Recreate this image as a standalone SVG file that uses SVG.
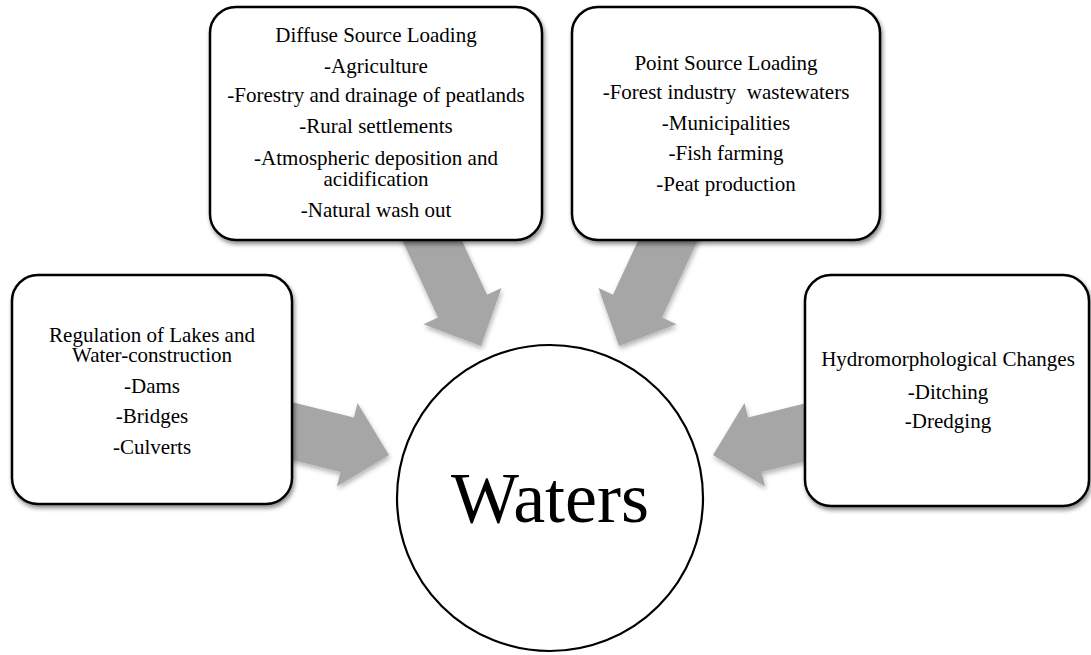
<svg xmlns="http://www.w3.org/2000/svg" width="1091" height="655" viewBox="0 0 1091 655">
<defs>
<filter id="sh" x="-20%" y="-20%" width="140%" height="140%">
<feDropShadow dx="1.5" dy="3" stdDeviation="2.2" flood-color="#000" flood-opacity="0.45"/>
</filter>
<filter id="ash" x="-20%" y="-20%" width="140%" height="140%">
<feDropShadow dx="1" dy="3" stdDeviation="2.5" flood-color="#000" flood-opacity="0.3"/>
</filter>
</defs>
<style>
.box{fill:#fff;stroke:#000;stroke-width:2.5;filter:url(#sh)}
.arr{fill:#a6a6a6;filter:url(#ash)}
text{font-family:"Liberation Serif","Times New Roman",serif;font-size:21px;fill:#000;text-anchor:middle}
.big{font-size:72px}
</style>
<rect width="1091" height="655" fill="#fff"/>
<g id="connectors">
<polygon class="arr" points="387.6,208.6 436.6,185.9 487,294.8 501.5,288 481,346 423.5,324.2 438,317.4"/>
<polygon class="arr" points="712.4,208.6 663.4,185.9 613,294.8 598.5,288 619,346 676.5,324.2 662,317.4"/>
<polygon class="arr" points="256.8,393.5 353.9,417.5 357.5,402.9 389,455 336.9,486.5 340.5,471.9 243.4,447.9"/>
<polygon class="arr" points="845.2,393.5 748.1,417.5 744.5,402.9 713,455 765.1,486.5 761.5,471.9 858.6,447.9"/>
</g>
<g id="diffuse">
<rect class="box" x="210" y="7" width="332" height="233" rx="26"/>
<text x="376" y="42">Diffuse Source Loading</text>
<text x="376" y="73">-Agriculture</text>
<text x="376" y="102">-Forestry and drainage of peatlands</text>
<text x="376" y="133">-Rural settlements</text>
<text x="376" y="165">-Atmospheric deposition and</text>
<text x="376" y="186">acidification</text>
<text x="376" y="217">-Natural wash out</text>
</g>
<g id="point">
<rect class="box" x="572" y="7" width="308" height="233" rx="26"/>
<text x="726" y="70">Point Source Loading</text>
<text x="726" y="99" xml:space="preserve">-Forest industry  wastewaters</text>
<text x="726" y="130">-Municipalities</text>
<text x="726" y="160">-Fish farming</text>
<text x="726" y="191">-Peat production</text>
</g>
<g id="regulation">
<rect class="box" x="12" y="275" width="280" height="229" rx="26"/>
<text x="152" y="342">Regulation of Lakes and</text>
<text x="152" y="362">Water-construction</text>
<text x="152" y="393">-Dams</text>
<text x="152" y="423">-Bridges</text>
<text x="152" y="454">-Culverts</text>
</g>
<g id="hydro">
<rect class="box" x="805" y="275" width="284" height="231" rx="26"/>
<text x="948" y="366">Hydromorphological Changes</text>
<text x="948" y="399">-Ditching</text>
<text x="948" y="428">-Dredging</text>
</g>
<g id="waters">
<circle cx="550" cy="498" r="153" fill="#fff" stroke="#000" stroke-width="2.2"/>
<text class="big" x="550" y="522">Waters</text>
</g>
</svg>
